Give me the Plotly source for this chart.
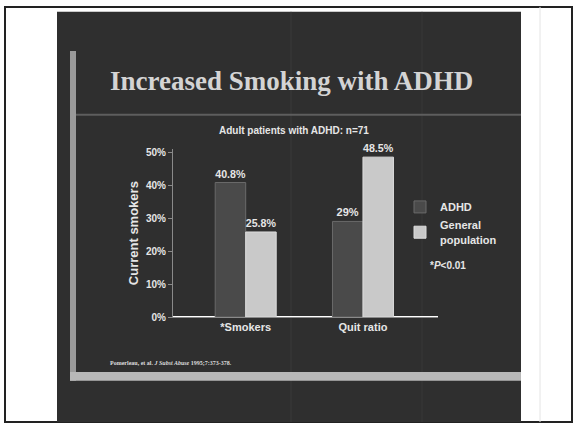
import plotly.graph_objects as go

categories = ["*Smokers", "Quit ratio"]
adhd_values = [40.8, 29.0]
general_values = [25.8, 48.5]
adhd_labels = ["40.8%", "29%"]
general_labels = ["25.8%", "48.5%"]
y_tick_vals = [0, 10, 20, 30, 40, 50]
y_tick_text = ["0%", "10%", "20%", "30%", "40%", "50%"]

W, H = 576, 432
def px(x): return x / W
def py(y): return 1 - y / H

TXT = "#e6e6e6"
FONT = "Liberation Sans, Arial"
fig = go.Figure()
fig.add_trace(go.Bar(x=categories, y=adhd_values, name="<b>ADHD</b>",
                     marker=dict(color="#4a4a4a", line=dict(color="#6a6a6a", width=1)),
                     text=["<b>%s</b>" % t for t in adhd_labels], textposition="outside", cliponaxis=False,
                     textfont=dict(color=TXT, size=11, family=FONT)))
fig.add_trace(go.Bar(x=categories, y=general_values, name="<b>General<br>population</b>",
                     marker=dict(color="#c9c9c9", line=dict(color="#dddddd", width=1)),
                     text=["<b>%s</b>" % t for t in general_labels], textposition="outside", cliponaxis=False,
                     textfont=dict(color=TXT, size=11, family=FONT)))

shapes = [
    dict(type="rect", xref="paper", yref="paper", x0=px(5), x1=px(572), y0=py(428), y1=py(5),
         line=dict(color="#222222", width=2), fillcolor="white", layer="below"),
    dict(type="line", xref="paper", yref="paper", x0=px(540), x1=px(540), y0=py(428), y1=py(5),
         line=dict(color="#e4e4e4", width=1), layer="below"),
    dict(type="rect", xref="paper", yref="paper", x0=px(57), x1=px(521), y0=py(428), y1=py(10),
         line=dict(width=0), fillcolor="#2f2f2f", layer="below"),
    dict(type="line", xref="paper", yref="paper", x0=px(291), x1=px(291), y0=py(428), y1=py(10),
         line=dict(color="#3b3b3b", width=1), layer="below"),
    dict(type="line", xref="paper", yref="paper", x0=px(422), x1=px(422), y0=py(428), y1=py(10),
         line=dict(color="#393939", width=1), layer="below"),
    dict(type="rect", xref="paper", yref="paper", x0=px(70), x1=px(76), y0=py(386), y1=py(50),
         line=dict(width=0), fillcolor="#9a9a9a", layer="below"),
    dict(type="rect", xref="paper", yref="paper", x0=px(70), x1=px(521), y0=py(386), y1=py(377),
         line=dict(width=0), fillcolor="#b8b8b8", layer="below"),
    dict(type="line", xref="paper", yref="paper", x0=px(76), x1=px(521), y0=py(115), y1=py(115),
         line=dict(color="#5e5e5e", width=2), layer="below"),
]

annotations = [
    dict(text="<b>Increased Smoking with ADHD</b>", x=px(291), y=py(80), xref="paper", yref="paper",
         showarrow=False, font=dict(family="Liberation Serif, Times New Roman", size=27, color="#d4d4d4"),
         xanchor="center", yanchor="middle"),
    dict(text="<b>Adult patients with ADHD: n=71</b>", x=px(294), y=py(131), xref="paper", yref="paper",
         showarrow=False, font=dict(family=FONT, size=10, color=TXT),
         xanchor="center", yanchor="middle"),
    dict(text="<b>*<i>P</i>&lt;0.01</b>", x=px(428), y=py(268), xref="paper", yref="paper",
         showarrow=False, font=dict(family=FONT, size=10, color=TXT),
         xanchor="left", yanchor="middle"),
    dict(text="<b>Pomerleau, et al. <i>J Subst Abuse</i> 1995;7:373-378.</b>", x=px(108), y=py(368),
         xref="paper", yref="paper", showarrow=False,
         font=dict(family="Liberation Serif, Times New Roman", size=6, color="#dddddd"),
         xanchor="left", yanchor="middle"),
]

fig.update_layout(
    width=W, height=H, margin=dict(l=0, r=0, t=0, b=0),
    paper_bgcolor="white", plot_bgcolor="rgba(0,0,0,0)",
    barmode="group", bargap=0.48, bargroupgap=0,
    shapes=shapes, annotations=annotations,
    showlegend=True,
    legend=dict(x=px(400), y=py(194), xanchor="left", yanchor="top",
                bgcolor="rgba(0,0,0,0)", font=dict(family=FONT, size=11, color=TXT),
                itemwidth=30, tracegroupgap=2),
    xaxis=dict(domain=[px(173), px(438)], range=[-0.62, 1.64], showgrid=False,
               showline=True, linecolor="#8a8a8a", linewidth=1, ticks="",
               tickvals=categories, ticktext=["<b>%s</b>" % c for c in categories],
               tickfont=dict(family=FONT, size=11, color=TXT)),
    yaxis=dict(domain=[py(321), py(150)], range=[0, 50.9], showgrid=False,
               tickvals=y_tick_vals, ticktext=["<b>%s</b>" % t for t in y_tick_text],
               ticks="outside", ticklen=4,
               tickcolor="#8a8a8a", showline=True, linecolor="#8a8a8a", linewidth=1,
               tickfont=dict(family=FONT, size=10, color=TXT),
               title=dict(text="<b>Current smokers</b>", standoff=4,
                          font=dict(family=FONT, size=13, color=TXT))),
)
fig.write_html("out.html")
